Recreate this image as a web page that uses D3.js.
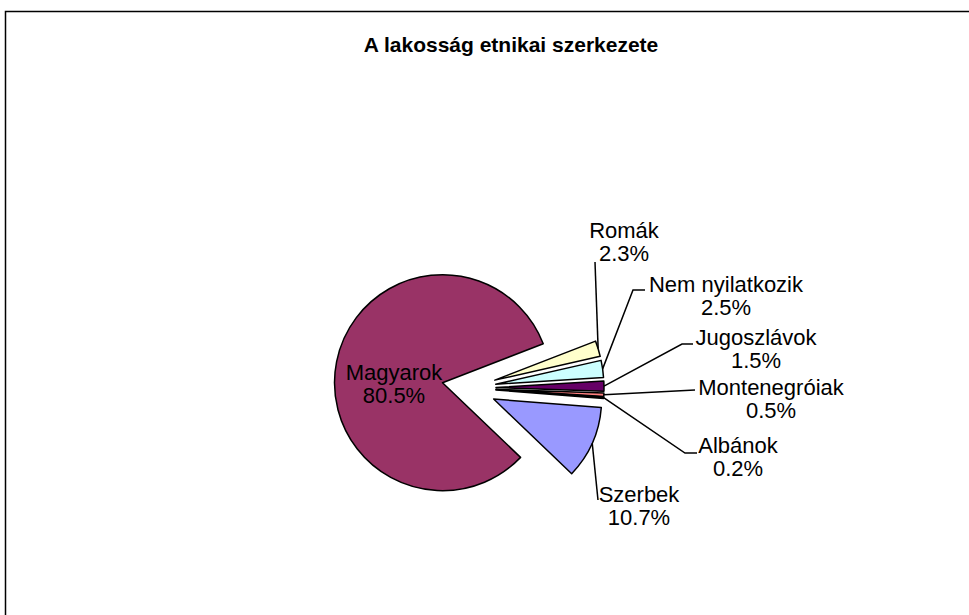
<!DOCTYPE html>
<html>
<head>
<meta charset="utf-8">
<script src="https://cdn.jsdelivr.net/npm/d3@7"></script>
<style>
  body { margin: 0; background: #fff; }
  text { font-family: "Liberation Sans", Arial, sans-serif; fill: #000; }
</style>
</head>
<body>
<div id="chart"></div>
<script>
// data
var names = ["Szerbek", "Magyarok", "Romák", "Nem nyilatkozik", "Jugoszlávok", "Montenegróiak", "Albánok"];
var values = [10.7, 80.5, 2.3, 2.5, 1.5, 0.5, 0.2];
var colors = ["#9999FF", "#993366", "#FFFFCC", "#CCFFFF", "#660066", "#FF8080", "#0066CC"];

var svgWidth = 969;
var svgHeight = 615;

var cx = 469, cy = 388;
var radius = 108;
var explode = 27;

// label placement (center x, first baseline) and leader line bends
var labelPos = {
  "Szerbek": [639, 502],
  "Magyarok": [394, 380],
  "Romák": [624, 238],
  "Nem nyilatkozik": [726, 292],
  "Jugoszlávok": [756, 345],
  "Montenegróiak": [771, 395],
  "Albánok": [738, 453]
};
var leaders = {
  "Szerbek": [[598, 500]],
  "Romák": [[595, 262]],
  "Nem nyilatkozik": [[633, 290], [645, 290]],
  "Jugoszlávok": [[682, 344], [693, 344]],
  "Montenegróiak": [[695, 390]],
  "Albánok": [[685, 453], [697, 453]]
};

var svg = d3.select("#chart")
  .append("svg")
  .attr("width", svgWidth)
  .attr("height", svgHeight);

// chart area border
svg.append("rect")
  .attr("x", 5.5)
  .attr("y", 11.5)
  .attr("width", 990)
  .attr("height", 640)
  .attr("fill", "none")
  .attr("stroke", "#000")
  .attr("stroke-width", 1.5);

svg.append("text")
  .attr("x", 511)
  .attr("y", 52)
  .attr("text-anchor", "middle")
  .attr("font-size", "21px")
  .attr("font-weight", "bold")
  .text("A lakosság  etnikai szerkezete");

var pieData = names.map(function(n, i) { return { name: n, value: values[i], color: colors[i] }; });

var pie = d3.pie()
  .sort(null)
  .value(d => d.value)
  .startAngle(94.5 * Math.PI / 180)
  .endAngle(94.5 * Math.PI / 180 + 2 * Math.PI);

var arc = d3.arc()
  .innerRadius(0)
  .outerRadius(radius);

var arcs = pie(pieData);

function offset(d) {
  var mid = (d.startAngle + d.endAngle) / 2;
  return [explode * Math.sin(mid), -explode * Math.cos(mid)];
}

var pieGroup = svg.append("g")
  .attr("transform", `translate(${cx}, ${cy})`);

pieGroup.selectAll("path")
  .data(arcs)
  .enter()
  .append("path")
  .attr("transform", d => `translate(${offset(d)[0]}, ${offset(d)[1]})`)
  .attr("d", arc)
  .attr("fill", d => d.data.color)
  .attr("stroke", "#000")
  .attr("stroke-width", 1.5)
  .attr("stroke-linejoin", "round");

// leader lines from the middle of each outer arc
arcs.forEach(function(d) {
  var bends = leaders[d.data.name];
  if (!bends) return;
  var mid = (d.startAngle + d.endAngle) / 2;
  var o = offset(d);
  var start = [cx + o[0] + radius * Math.sin(mid), cy + o[1] - radius * Math.cos(mid)];
  svg.append("path")
    .attr("d", d3.line()([start].concat(bends)))
    .attr("fill", "none")
    .attr("stroke", "#000")
    .attr("stroke-width", 1.5);
});

// data labels
arcs.forEach(function(d) {
  var p = labelPos[d.data.name];
  var t = svg.append("text")
    .attr("text-anchor", "middle")
    .attr("font-size", "22px");
  t.append("tspan")
    .attr("x", p[0])
    .attr("y", p[1])
    .text(d.data.name);
  t.append("tspan")
    .attr("x", p[0])
    .attr("y", p[1] + 23)
    .text(d.data.value.toFixed(1) + "%");
});
</script>
</body>
</html>
